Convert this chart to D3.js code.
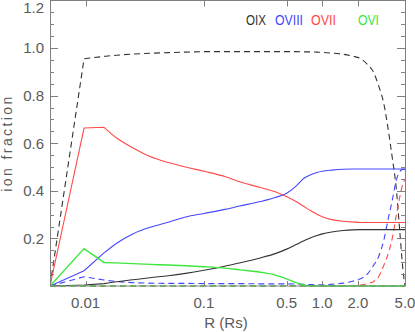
<!DOCTYPE html>
<html>
<head>
<meta charset="utf-8">
<script src="https://cdn.jsdelivr.net/npm/d3@7"></script>
<style>
  body { margin: 0; background: #fff; }
  svg { display: block; font-family: "Liberation Sans", Arial, sans-serif; }
</style>
</head>
<body>
<div id="chart"></div>
<script>
// radius grid (Rs)
const radius = [0.005, 0.0097, 0.0143, 0.0183, 0.025, 0.035, 0.05, 0.07, 0.1, 0.15, 0.2, 0.3, 0.4, 0.5, 0.6, 0.7, 0.8, 0.9, 1.0,
                1.2, 1.5, 1.8, 2.1, 2.4, 2.7, 3.0, 3.3, 3.6, 3.9, 4.2, 4.5, 4.8, 5.0];

// solid curves
const oixSolid   = [0, 0.004, 0.01, 0.018, 0.026, 0.035, 0.043, 0.053, 0.066, 0.083, 0.097, 0.118, 0.136, 0.155, 0.174, 0.19, 0.203, 0.212, 0.219,
                    0.227, 0.233, 0.236, 0.237, 0.237, 0.237, 0.237, 0.237, 0.237, 0.237, 0.237, 0.237, 0.237, 0.237];
const oviiiSolid = [0, 0.064, 0.139, 0.18, 0.219, 0.247, 0.268, 0.29, 0.305, 0.322, 0.336, 0.355, 0.372, 0.39, 0.42, 0.453, 0.468, 0.477, 0.482,
                    0.487, 0.491, 0.492, 0.492, 0.492, 0.492, 0.492, 0.492, 0.492, 0.492, 0.492, 0.492, 0.492, 0.492];
const oviiSolid  = [0, 0.664, 0.667, 0.622, 0.581, 0.544, 0.519, 0.5, 0.482, 0.46, 0.438, 0.414, 0.396, 0.375, 0.355, 0.334, 0.316, 0.302, 0.291,
                    0.279, 0.272, 0.269, 0.267, 0.267, 0.267, 0.267, 0.267, 0.267, 0.267, 0.267, 0.267, 0.267, 0.267];
const oviSolid   = [0, 0.157, 0.099, 0.097, 0.094, 0.091, 0.088, 0.085, 0.081, 0.075, 0.068, 0.058, 0.046, 0.03, 0.014, 0.004, 0, 0, 0,
                    0, 0, 0, 0, 0, 0, 0, 0, 0, 0, 0, 0, 0, 0];

// dashed curves
const oixDashed   = [0, 0.955, 0.965, 0.97, 0.975, 0.978, 0.981, 0.983, 0.985, 0.985, 0.985, 0.985, 0.985, 0.985, 0.985, 0.984, 0.984, 0.983, 0.982,
                     0.979, 0.974, 0.966, 0.956, 0.932, 0.9, 0.84, 0.77, 0.66, 0.54, 0.42, 0.24, 0.07, 0];
const oviiiDashed = [0, 0.039, 0.025, 0.019, 0.014, 0.012, 0.011, 0.011, 0.01, 0.01, 0.01, 0.009, 0.009, 0.009, 0.008, 0.007, 0.006, 0.005, 0.005,
                     0.007, 0.012, 0.02, 0.03, 0.05, 0.085, 0.125, 0.19, 0.28, 0.36, 0.44, 0.48, 0.49, 0.49];
const oviiDashed  = [0, 0, 0, 0, 0, 0, 0, 0, 0, 0, 0, 0, 0, 0, 0, 0, 0, 0, 0,
                     0, 0, 0, 0.004, 0.01, 0.018, 0.04, 0.085, 0.135, 0.2, 0.29, 0.37, 0.43, 0.45];
const oviDashed   = [0, 0, 0, 0, 0, 0, 0, 0, 0, 0, 0, 0, 0, 0, 0, 0, 0, 0, 0,
                     0, 0, 0, 0, 0, 0, 0, 0, 0, 0, 0, 0, 0, 0];

const ions = ['OIX', 'OVIII', 'OVII', 'OVI'];
const ionColors = ['#333333', '#4646ff', '#ff4848', '#3ce63c'];
const xTicks = [0.01, 0.1, 0.5, 1.0, 2.0, 5.0];
const xTickLabels = ['0.01', '0.1', '0.5', '1.0', '2.0', '5.0'];
const yTicks = [0.2, 0.4, 0.6, 0.8, 1.0, 1.2];

const width = 415, height = 332;
const margin = { left: 50, right: 10, top: 0.5, bottom: 46 };

const svg = d3.select('#chart').append('svg')
    .attr('width', width)
    .attr('height', height);

const x = d3.scaleLog().domain([0.005, 5]).range([margin.left, width - margin.right]);
const y = d3.scaleLinear().domain([0, 1.2]).range([height - margin.bottom, margin.top]);

const axisColor = '#808080';
const textColor = '#5a5a5a';

svg.append('clipPath').attr('id', 'clip')
    .append('rect')
    .attr('x', x.range()[0]).attr('y', 0)
    .attr('width', x.range()[1] - x.range()[0] + 1)
    .attr('height', y(0) + 1);

// series: dashed first, then solid
const series = [
    { values: oixDashed, color: ionColors[0], dash: '6,4' },
    { values: oviiiDashed, color: ionColors[1], dash: '6,4' },
    { values: oviiDashed, color: ionColors[2], dash: '6,4' },
    { values: oixSolid, color: ionColors[0], dash: null },
    { values: oviiiSolid, color: ionColors[1], dash: null },
    { values: oviiSolid, color: ionColors[2], dash: null },
    { values: oviSolid, color: ionColors[3], dash: null },
    { values: oviDashed, color: ionColors[3], dash: '6,4' }
];

// first two segments straight (sharp onset), rest smoothed
const lineStart = d3.line()
    .x(d => x(d[0]))
    .y(d => y(d[1]));
const lineRest = d3.line()
    .x(d => x(d[0]))
    .y(d => y(d[1]))
    .curve(d3.curveMonotoneX);

function seriesPath(values) {
    const pts = values.map((v, i) => [radius[i], v]);
    return lineStart(pts.slice(0, 3)) + lineRest(pts.slice(2)).replace(/^M[^LC]*/, '');
}

const plot = svg.append('g').attr('clip-path', 'url(#clip)');

plot.selectAll('path')
    .data(series)
    .enter()
    .append('path')
    .attr('d', d => seriesPath(d.values))
    .attr('fill', 'none')
    .attr('stroke', d => d.color)
    .attr('stroke-width', d => d.color === ionColors[3] ? 1.4 : 1.1)
    .attr('stroke-dasharray', d => d.dash);

// frame
const x0 = x.range()[0], x1 = x.range()[1];
const y0 = y(0), y1 = y(1.2);
svg.append('rect')
    .attr('x', x0 + 0.5).attr('y', y1)
    .attr('width', x1 - x0).attr('height', y0 - y1)
    .attr('fill', 'none')
    .attr('stroke', axisColor)
    .attr('stroke-width', 1);

// y ticks (major + minor), left and right, pointing inward
const yMinor = d3.range(0.05, 1.2001, 0.05);
const ticksG = svg.append('g').attr('stroke', axisColor).attr('stroke-width', 1);
yMinor.forEach(v => {
    const major = Math.abs(v / 0.2 - Math.round(v / 0.2)) < 1e-6;
    const len = major ? 8 : 4;
    const yy = Math.round(y(v)) + 0.5;
    ticksG.append('line').attr('x1', x0).attr('x2', x0 + len).attr('y1', yy).attr('y2', yy);
    ticksG.append('line').attr('x1', x1).attr('x2', x1 - len).attr('y1', yy).attr('y2', yy);
});

// x ticks, bottom and top
xTicks.forEach(t => {
    const xx = Math.round(x(t)) + 0.5;
    ticksG.append('line').attr('x1', xx).attr('x2', xx).attr('y1', y0).attr('y2', y0 - 5);
    ticksG.append('line').attr('x1', xx).attr('x2', xx).attr('y1', y1).attr('y2', y1 + 6);
});

// tick labels
svg.append('g')
    .selectAll('text')
    .data(yTicks)
    .enter()
    .append('text')
    .attr('x', 44)
    .attr('y', d => Math.max(y(d), 7.5))
    .attr('dy', '0.36em')
    .attr('text-anchor', 'end')
    .attr('font-size', '15px')
    .attr('fill', textColor)
    .text(d => d.toFixed(1));

svg.append('g')
    .selectAll('text')
    .data(xTicks)
    .enter()
    .append('text')
    .attr('x', d => x(d))
    .attr('y', y0 + 22)
    .attr('text-anchor', 'middle')
    .attr('font-size', '15px')
    .attr('fill', textColor)
    .text((d, i) => xTickLabels[i]);

// axis titles
svg.append('text')
    .attr('x', 226)
    .attr('y', 328)
    .attr('text-anchor', 'middle')
    .attr('font-size', '15px')
    .attr('fill', textColor)
    .text('R (Rs)');

svg.append('text')
    .attr('transform', 'translate(12,143) rotate(-90)')
    .attr('text-anchor', 'middle')
    .attr('font-size', '14px')
    .attr('letter-spacing', '2.4px')
    .attr('fill', textColor)
    .text('ion fraction');

// legend
const legendX = [246, 275, 311, 358];
const legendW = [20, 28, 25, 21];
svg.append('g')
    .selectAll('text')
    .data(ions)
    .enter()
    .append('text')
    .attr('x', (d, i) => legendX[i])
    .attr('y', 25)
    .attr('font-size', '15px')
    .attr('textLength', (d, i) => legendW[i])
    .attr('lengthAdjust', 'spacingAndGlyphs')
    .attr('fill', (d, i) => ionColors[i])
    .text(d => d);
</script>
</body>
</html>
